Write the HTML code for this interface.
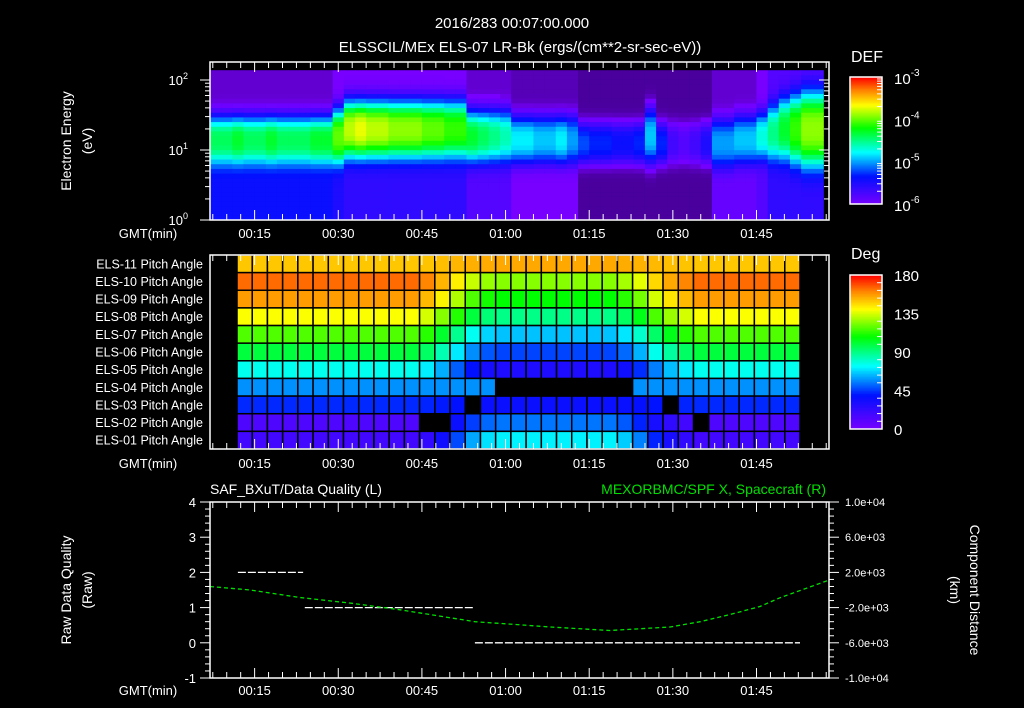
<!DOCTYPE html>
<html><head><meta charset="utf-8">
<style>
html,body{margin:0;padding:0;background:#000;}
svg{display:block;}
text{font-family:"Liberation Sans",sans-serif;fill:#fff;}
</style></head>
<body>
<svg id="fig" width="1024" height="708" viewBox="0 0 1024 708">
<text x="512" y="28" font-size="15" text-anchor="middle">2016/283 00:07:00.000</text>
<text x="520" y="52" font-size="15" text-anchor="middle">ELSSCIL/MEx ELS-07 LR-Bk  (ergs/(cm**2-sr-sec-eV))</text>
<g id="spec"></g>
<g id="pitch"></g>
<g id="bottom"></g>
<g id="axes"></g>
</svg>
<script>
// ---------- time axis ----------
const tStart = 7, tEnd = 118;
const timeTicks = [15,30,45,60,75,90,105];
const timeTickLabels = ["00:15","00:30","00:45","01:00","01:15","01:30","01:45"];
// ---------- spectrogram data (2-min columns starting at minute 7) ----------
const specStartMin = 7, specStepMin = 2;
const specPeak = [-4.4,-4.4,-4.3,-4.4,-4.4,-4.3,-4.4,-4.4,-4.4,-4.3,-4.3,-4.0,-3.8,-3.7,-3.8,-3.8,-3.9,-3.9,-3.9,-4.0,-4.0,-4.1,-4.1,-4.3,-4.4,-4.5,-4.6,-4.8,-4.8,-4.9,-4.9,-4.8,-5.0,-5.2,-5.3,-5.3,-5.4,-5.4,-5.3,-4.9,-5.3,-5.7,-5.8,-5.7,-5.5,-5.0,-5.0,-4.9,-4.9,-4.7,-4.5,-4.3,-4.1,-3.9,-3.9];
const specCenter = [1.15,1.15,1.15,1.15,1.15,1.15,1.15,1.15,1.15,1.15,1.15,1.2,1.3,1.3,1.3,1.3,1.3,1.3,1.3,1.3,1.3,1.3,1.3,1.2,1.2,1.2,1.2,1.15,1.15,1.15,1.15,1.15,1.15,1.1,1.1,1.1,1.1,1.1,1.1,1.2,1.1,1.1,1.1,1.1,1.1,1.1,1.1,1.15,1.15,1.2,1.25,1.3,1.3,1.3,1.3];
const specWidth = [0.35,0.35,0.35,0.35,0.35,0.35,0.35,0.35,0.35,0.35,0.35,0.4,0.42,0.42,0.42,0.42,0.42,0.42,0.42,0.42,0.42,0.42,0.42,0.38,0.38,0.38,0.38,0.35,0.35,0.35,0.35,0.35,0.35,0.3,0.3,0.3,0.3,0.3,0.3,0.4,0.3,0.3,0.3,0.3,0.3,0.35,0.35,0.35,0.35,0.35,0.4,0.45,0.5,0.55,0.55];
const specLowFloor = [-5.4,-5.4,-5.4,-5.4,-5.4,-5.4,-5.4,-5.4,-5.4,-5.4,-5.4,-5.5,-5.6,-5.6,-5.6,-5.6,-5.6,-5.6,-5.6,-5.6,-5.6,-5.6,-5.6,-5.8,-5.8,-5.8,-5.8,-6.0,-6.0,-6.0,-6.0,-6.0,-6.0,-6.15,-6.15,-6.15,-6.15,-6.15,-6.15,-6.15,-6.15,-6.15,-6.15,-6.15,-6.15,-5.9,-5.9,-5.9,-5.9,-5.8,-5.6,-5.6,-5.6,-5.6,-5.6];
const specHighFloor = [-6.05,-6.05,-6.05,-6.05,-6.05,-6.05,-6.05,-6.05,-6.05,-6.05,-6.05,-6.0,-6.0,-6.0,-6.0,-6.0,-6.0,-6.0,-6.0,-6.0,-6.0,-6.0,-6.0,-6.05,-6.05,-6.05,-6.05,-6.1,-6.1,-6.1,-6.1,-6.1,-6.1,-6.15,-6.15,-6.15,-6.15,-6.15,-6.15,-6.15,-6.15,-6.15,-6.15,-6.15,-6.15,-6.05,-6.05,-6.05,-6.05,-6.0,-5.8,-5.8,-5.8,-5.8,-5.8];
const energyDecadeLabels = ["0","1","2"];
const defLabels = ["-3","-4","-5","-6"];
// ---------- pitch angle data ----------
const pitchRows = ["ELS-11","ELS-10","ELS-09","ELS-08","ELS-07","ELS-06","ELS-05","ELS-04","ELS-03","ELS-02","ELS-01"];
const pitchOuter = [150,165,157,140,118,100,76,58,43,14,18];
const pitchInner = [155,125,108,90,65,47,30,58,36,54,72];
const pitchMix = [0,0,0,0,0,0,0,0,0,0,0,0,0.1,0.3,0.55,0.8,0.95,1,1,1,1,1,1,1,1,0.9,0.7,0.45,0.25,0.1,0,0,0,0,0,0,0];
const pitchMissing = [[7,17],[7,18],[7,19],[7,20],[7,21],[7,22],[7,23],[7,24],[7,25],[8,15],[8,28],[9,12],[9,13],[9,30]];
const degLabels = ["180","135","90","45","0"];
// ---------- bottom panel data ----------
const qualitySegments = [[12.0,23.7,2],[24.0,54.2,1],[54.5,112.8,0]];
const orbitTimes = [7,14.2,23.1,32.3,41.1,54.5,60.8,68,78.7,89.5,94.9,100.2,105.6,109.2,118];
const orbitX = [400,0,-850,-1500,-2250,-3600,-3880,-4200,-4600,-4200,-3600,-2800,-1880,-890,1120];
const leftTicks = [4,3,2,1,0,-1];
const rightTickLabels = ["1.0e+04","6.0e+03","2.0e+03","-2.0e+03","-6.0e+03","-1.0e+04"];

const NS="http://www.w3.org/2000/svg";
function mk(parent,tag,attrs,txt){const e=document.createElementNS(NS,tag);for(const k in attrs)e.setAttribute(k,attrs[k]);if(txt!==undefined)e.textContent=txt;parent.appendChild(e);return e;}
const X0=210,X1=829;
function xT(t){return X0+(t-tStart)*(X1-X0)/(tEnd-tStart);}
const stops=[[0,[120,0,255]],[0.22,[0,16,255]],[0.41,[0,255,255]],[0.6,[0,255,0]],[0.78,[255,255,0]],[0.9,[255,128,0]],[1,[255,0,0]]];
function cmap(f){f=Math.max(0,Math.min(1,f));for(let i=1;i<stops.length;i++){if(f<=stops[i][0]){const a=stops[i-1],b=stops[i];const u=(f-a[0])/(b[0]-a[0]);const c=a[1].map((v,j)=>Math.round(v+(b[1][j]-v)*u));return `rgb(${c[0]},${c[1]},${c[2]})`;}}return "rgb(255,0,0)";}
// below the colour range: fade to black (speckled background average)
function specColor(v){if(v>=-6)return cmap((v+6)/3);const u=Math.max(0,Math.min(1,(v+6.45)/0.45));return `rgb(${Math.round(110*u)},0,${Math.round(235*u)})`;}

// ---------- spectrogram ----------
const spec=document.getElementById('spec');
const SY0=62,SY1=220;
function yE(le){return SY1-le*70;}
const nBins=32,leMax=2.14;
for(let i=0;i<specPeak.length;i++){
  const t0=specStartMin+i*specStepMin;
  const xa=xT(t0), xb=Math.min(xT(t0+specStepMin),826);
  if(xb<=xa) continue;
  for(let b=0;b<nBins;b++){
    const le=(b+0.5)*leMax/nBins;
    const d=(le-specCenter[i])/specWidth[i];
    const fl=le<specCenter[i]?specLowFloor[i]:specHighFloor[i];
    const v=fl+(specPeak[i]-fl)*Math.exp(-Math.pow(Math.abs(d),3));
    const r=mk(spec,'rect',{x:xa.toFixed(2),y:yE((b+1)*leMax/nBins).toFixed(2),width:(xb-xa+0.4).toFixed(2),height:(70*leMax/nBins+0.4).toFixed(2),fill:specColor(v)});
    
    
  }
}
const ax=document.getElementById('axes');
function frame(y0,y1,name){const r=mk(ax,'rect',{x:X0,y:y0,width:X1-X0,height:y1-y0,fill:'none',stroke:'#fff','stroke-width':1.5});}
function timeTickMarks(y0,y1){
  for(let t=7.5;t<tEnd;t+=2.5){const major=Math.abs((t%15))<0.01;const L=major?10:6;
    mk(ax,'line',{x1:xT(t),x2:xT(t),y1:y0,y2:y0+L,stroke:'#fff','stroke-width':1});
    mk(ax,'line',{x1:xT(t),x2:xT(t),y1:y1,y2:y1-L,stroke:'#fff','stroke-width':1});}
}
function timeLabels(y){
  const g=mk(ax,'text',{x:148,y:y,'font-size':13,'text-anchor':'middle'},"GMT(min)");
  
  timeTicks.forEach((t,i)=>{const e=mk(ax,'text',{x:xT(t),y:y,'font-size':13,'text-anchor':'middle'},timeTickLabels[i]);
    });
}
frame(SY0,SY1,'spectrogram-frame');
timeTickMarks(SY0,SY1);
timeLabels(238);
for(let d=0;d<=2;d++){
  for(let m=1;m<=9;m++){const le=d+Math.log10(m);if(le>2.3)break;const y=yE(le);if(y<SY0)break;
    mk(ax,'line',{x1:X0-(m===1?10:5),x2:X0,y1:y,y2:y,stroke:'#fff','stroke-width':1});
    mk(ax,'line',{x1:X1,x2:X1-(m===1?10:5),y1:y,y2:y,stroke:'#fff','stroke-width':1});}
  const t=mk(ax,'text',{x:188,y:yE(d)+5,'font-size':13,'text-anchor':'end'},"10");
  
  mk(t,'tspan',{dy:-6,'font-size':9},energyDecadeLabels[d]);
}
{const t=mk(ax,'text',{x:0,y:0,'font-size':14,'text-anchor':'middle',transform:'translate(71,141) rotate(-90)'},"Electron Energy");
 const u=mk(ax,'text',{x:0,y:0,'font-size':14,'text-anchor':'middle',transform:'translate(92,141) rotate(-90)'},"(eV)");}
function colorbar(y0,y1,name){
  for(let k=0;k<100;k++){const f=k/100;mk(ax,'rect',{x:850,y:(y1-(k+1)*(y1-y0)/100).toFixed(2),width:32,height:((y1-y0)/100+0.5).toFixed(2),fill:cmap(f+0.005)});}
  const r=mk(ax,'rect',{x:850,y:y0,width:32,height:y1-y0,fill:'none',stroke:'#fff','stroke-width':1.5});
  
}
colorbar(77,204,'def-colorbar');
{const t=mk(ax,'text',{x:851,y:62,'font-size':16},"DEF");}
defLabels.forEach((p,i)=>{const y=77+i*(127/3);
  const t=mk(ax,'text',{x:894,y:y+7,'font-size':15},"10");
  mk(t,'tspan',{dy:-8,'font-size':10},p);
  for(let m=2;m<=9;m++){if(i===3)break;const yy=y+(127/3)*(1-Math.log10(m));mk(ax,'line',{x1:882,x2:877,y1:yy,y2:yy,stroke:'#fff'});}});

// ---------- pitch panel ----------
const pg=document.getElementById('pitch');
const PY0=255,PY1=449,PX0=237,PX1=800,nCol=pitchMix.length,rowH=(PY1-PY0)/pitchRows.length,colW=(PX1-PX0)/nCol;
const miss=new Set(pitchMissing.map(a=>a[0]+"_"+a[1]));
pitchRows.forEach((nm,r)=>{
  for(let c=0;c<nCol;c++){
    if(miss.has(r+"_"+c))continue;
    const v=pitchOuter[r]+(pitchInner[r]-pitchOuter[r])*pitchMix[c];
    const e=mk(pg,'rect',{x:(PX0+c*colW).toFixed(2),y:(PY0+r*rowH).toFixed(2),width:colW.toFixed(2),height:rowH.toFixed(2),fill:cmap(v/180),stroke:'#000','stroke-width':1.5});
    
  }
  const l=mk(ax,'text',{x:203,y:PY0+r*rowH+rowH/2+4.5,'font-size':12.5,'text-anchor':'end'},nm+" Pitch Angle");
  
});
frame(PY0,PY1,'pitch-frame');
timeTickMarks(PY0,PY1);
timeLabels(468);
colorbar(275,429,'deg-colorbar');
{const t=mk(ax,'text',{x:851,y:259,'font-size':16},"Deg");}
degLabels.forEach((s,i)=>{const y=275+i*(154/4);
  const t=mk(ax,'text',{x:894,y:y+6,'font-size':15},s);
  for(let k=1;k<5&&i<4;k++){const yy=y+k*154/20;mk(ax,'line',{x1:882,x2:877,y1:yy,y2:yy,stroke:'#fff'});}});

// ---------- bottom panel ----------
const bg=document.getElementById('bottom');
const BY0=502,BY1=678;
function yL(v){return BY1-(v+1)*(BY1-BY0)/5;}
function yR(km){return yL(km/4000+1.5);}
frame(BY0,BY1,'quality-frame');
timeTickMarks(BY0,BY1);
timeLabels(695);
leftTicks.forEach(v=>{const y=yL(v);
  mk(ax,'line',{x1:X0-10,x2:X0,y1:y,y2:y,stroke:'#fff'});mk(ax,'line',{x1:X1,x2:X1+10,y1:y,y2:y,stroke:'#fff'});
  if(v>-1)for(let k=1;k<5;k++){const yy=y+k*(BY1-BY0)/25;mk(ax,'line',{x1:X0-5,x2:X0,y1:yy,y2:yy,stroke:'#fff'});mk(ax,'line',{x1:X1,x2:X1+5,y1:yy,y2:yy,stroke:'#fff'});}
  const t=mk(ax,'text',{x:196,y:y+5,'font-size':13,'text-anchor':'end'},String(v));});
rightTickLabels.forEach((s,i)=>{const y=BY0+i*(BY1-BY0)/5;
  const t=mk(ax,'text',{x:845,y:y+4,'font-size':11},s);});
{let t=mk(ax,'text',{x:210,y:494,'font-size':14},"SAF_BXuT/Data Quality (L)");
 t=mk(ax,'text',{x:826,y:494,'font-size':14,'text-anchor':'end',style:'fill:#00e000'},"MEXORBMC/SPF X, Spacecraft (R)");
 t=mk(ax,'text',{x:0,y:0,'font-size':14,'text-anchor':'middle',transform:'translate(71,590) rotate(-90)'},"Raw Data Quality");
 t=mk(ax,'text',{x:0,y:0,'font-size':14,'text-anchor':'middle',transform:'translate(92,590) rotate(-90)'},"(Raw)");
 t=mk(ax,'text',{x:0,y:0,'font-size':14,'text-anchor':'middle',transform:'translate(970,590) rotate(90)'},"Component Distance");
 t=mk(ax,'text',{x:0,y:0,'font-size':14,'text-anchor':'middle',transform:'translate(950,590) rotate(90)'},"(km)");}
qualitySegments.forEach(s=>{const l=mk(bg,'line',{x1:xT(s[0]),x2:xT(s[1]),y1:yL(s[2]),y2:yL(s[2]),stroke:'#fff','stroke-width':1.3,'stroke-dasharray':'8 2'});
  });
{const pts=orbitTimes.map((t,i)=>xT(t).toFixed(1)+","+yR(orbitX[i]).toFixed(1)).join(" ");
 const p=mk(bg,'polyline',{points:pts,fill:'none',stroke:'#00e000','stroke-width':1.3,'stroke-dasharray':'4 3','stroke-linejoin':'round'});
 }
</script>
</body></html>
